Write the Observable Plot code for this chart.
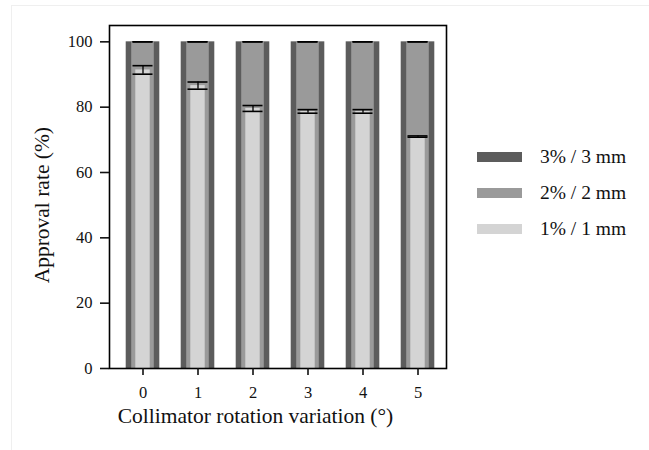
<!DOCTYPE html>
<html>
<head>
<meta charset="utf-8">
<script src="https://cdn.jsdelivr.net/npm/d3@7"></script>
<script src="https://cdn.jsdelivr.net/npm/@observablehq/plot@0.6"></script>
<style>
  html, body { margin: 0; padding: 0; background: #fff; }
  #wrap { position: relative; width: 649px; height: 450px; overflow: hidden; font-family: "Liberation Serif", "DejaVu Serif", serif; }
  #edge { position: absolute; left: 11px; top: 5px; right: 0; bottom: 0; border-left: 1.5px solid #efefef; border-top: 1.5px solid #efefef; }
  #legend { position: absolute; left: 477px; top: 139px; }
  .row { display: flex; align-items: center; height: 36px; }
  .sw { width: 45px; height: 10px; margin-right: 18px; }
  .lb { font-size: 19.5px; color: #111; }
</style>
</head>
<body>
<div id="wrap"><div id="edge"></div><div id="chart"></div><div id="legend"></div></div>
<script>
const categories = ["0", "1", "2", "3", "4", "5"];
const rate3 = [100, 100, 100, 100, 100, 100];
const rate2 = [100, 100, 100, 100, 100, 100];
const rate1 = [91.4, 86.6, 79.6, 78.7, 78.7, 71.0];
const err2 = [0, 0, 0, 0, 0, 0];
const err1 = [1.3, 1.1, 0.9, 0.55, 0.55, 0.2];
const seriesNames = ["3% / 3 mm", "2% / 2 mm", "1% / 1 mm"];
const seriesColors = ["#5c5c5c", "#9a9a9a", "#d4d4d4"];
const yTicks = [0, 20, 40, 60, 80, 100];
const xLabel = "Collimator rotation variation (°)";
const yLabel = "Approval rate (%)";

const rows = categories.map((c, i) => ({
  cat: c, r3: rate3[i], r2: rate2[i], r1: rate1[i],
  lo1: rate1[i] - err1[i], hi1: rate1[i] + err1[i],
  lo2: rate2[i] - err2[i], hi2: rate2[i] + err2[i]
}));

const font = "Liberation Serif, DejaVu Serif, serif";
const chart = Plot.plot({
  width: 649,
  height: 450,
  marginLeft: 109,
  marginRight: 203,
  marginTop: 25,
  marginBottom: 82,
  style: { fontFamily: font, fontSize: "16px", color: "#111", background: "transparent" },
  x: { domain: categories, range: [114.5, 444.5], padding: 0 },
  y: { domain: [0, 105] },
  marks: [
    Plot.barY(rows, { x: "cat", y: "r3", fill: seriesColors[0], insetLeft: 10.7, insetRight: 10.7 }),
    Plot.barY(rows, { x: "cat", y: "r2", fill: seriesColors[1], insetLeft: 16.2, insetRight: 16.2 }),
    Plot.barY(rows, { x: "cat", y: "r1", fill: seriesColors[2], insetLeft: 20.3, insetRight: 20.3 }),
    Plot.ruleX(rows, { x: "cat", y1: "lo1", y2: "hi1", stroke: "#000", strokeWidth: 1.3 }),
    Plot.tickY(rows, { x: "cat", y: "lo1", stroke: "#000", strokeWidth: 1.6, insetLeft: 17.5, insetRight: 17.5 }),
    Plot.tickY(rows, { x: "cat", y: "hi1", stroke: "#000", strokeWidth: 1.6, insetLeft: 17.5, insetRight: 17.5 }),
    Plot.tickY(rows, { x: "cat", y: "lo2", stroke: "#000", strokeWidth: 1.6, insetLeft: 17.5, insetRight: 17.5 }),
    Plot.tickY(rows, { x: "cat", y: "hi2", stroke: "#000", strokeWidth: 1.6, insetLeft: 17.5, insetRight: 17.5 }),
    Plot.frame({ stroke: "#000", strokeWidth: 1.6 }),
    Plot.axisY({ ticks: yTicks, tickSize: 9, tickPadding: 8, label: null, strokeWidth: 1.6, fontSize: 16.5 }),
    Plot.axisX({ tickSize: 7, tickPadding: 11, label: null, strokeWidth: 1.6, fontSize: 16.5 }),
    Plot.text([yLabel], { text: d => d, y: [50], frameAnchor: "left", dx: -67, rotate: -90, textAnchor: "middle", fontSize: 21.5, fill: "#111" }),
    Plot.text([xLabel], { text: d => d, frameAnchor: "bottom-left", dx: 146, dy: 54, textAnchor: "middle", fontSize: 21.5, fill: "#111" })
  ]
});
document.getElementById("chart").appendChild(chart);

const legend = document.getElementById("legend");
seriesNames.forEach((n, i) => {
  const row = document.createElement("div");
  row.className = "row";
  const sw = document.createElement("div");
  sw.className = "sw";
  sw.style.background = seriesColors[i];
  const lb = document.createElement("span");
  lb.className = "lb";
  lb.textContent = n;
  row.appendChild(sw); row.appendChild(lb);
  legend.appendChild(row);
});
</script>
</body>
</html>
